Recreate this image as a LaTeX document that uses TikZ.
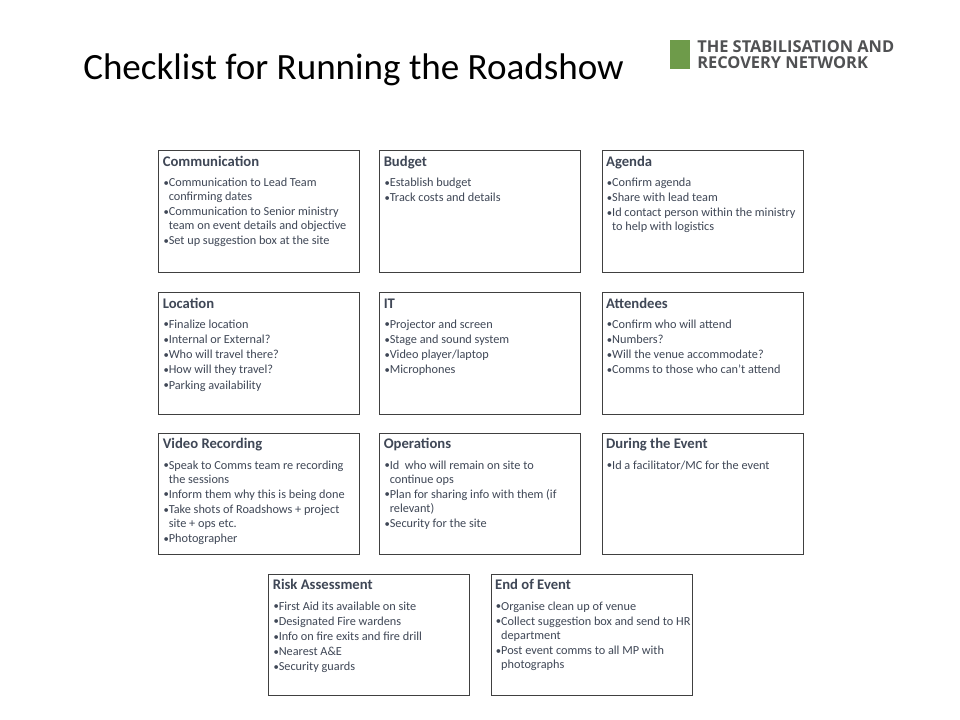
\documentclass[tikz,border=0pt]{standalone}
\usepackage{fontspec}
\setmainfont{Carlito}
\newfontfamily\logofont{Open Sans}
\usetikzlibrary{calc}
\definecolor{txt}{HTML}{3F4756}
\definecolor{boxline}{HTML}{404040}
\definecolor{logogreen}{HTML}{6E9B4A}
\definecolor{logogrey}{HTML}{505153}
\tikzset{
  chkbox/.style={draw=boxline, line width=0.75pt, rectangle, anchor=north west, inner sep=0pt, minimum width=150.75pt, minimum height=91pt},
  head/.style={anchor=base west, inner sep=0pt, text=txt, font=\fontsize{11}{13}\selectfont\bfseries},
  items/.style={anchor=base west, inner sep=0pt, text=txt, font=\fontsize{9.2}{10.5}\selectfont},
  logotext/.style={anchor=base west, inner sep=0pt, text=logogrey, font=\logofont\bfseries\fontsize{12.3}{14}\selectfont},
}
\newcommand\bul{\par\hangindent=3pt\hangafter=1\noindent\makebox[3pt][l]{\kern-0.9pt\raisebox{0.3pt}{\fontsize{8}{8}\selectfont •}}}
\newcommand\mkbox[5]{%
  \node[chkbox] (#1) at (#2,#3) {};
  \node[head] (#1-h) at ($(#1.north west)+(4.2,15.8)$) {#4};
  \node[items] (#1-i) at ($(#1.north west)+(6.2,36)$) {\vtop{\hsize=185pt\parindent=0pt\parskip=0.9pt\raggedright #5}};
}
\begin{document}
\begin{tikzpicture}[x=0.75pt,y=-0.75pt]
\useasboundingbox (0,0) rectangle (960,720);
\fill[white] (0,0) rectangle (960,720);
% title
\node[anchor=base west, inner sep=0pt, font=\fontsize{27.8}{32}\selectfont] (title) at (83,80) {Checklist for Running the Roadshow};
% logo
\fill[logogreen] (670,40) rectangle (689.5,69.5);
\node[logotext] (logo1) at (697,52.5) {THE STABILISATION AND};
\node[logotext] (logo2) at (697,69) {RECOVERY NETWORK};
% boxes
\mkbox{comm}{158.3}{150.5}{Communication}{\bul Communication to Lead Team\newline confirming dates\bul Communication to Senior ministry\newline team on event details and objective\bul Set up suggestion box at the site}
\mkbox{budget}{379.3}{150.5}{Budget}{\bul Establish budget\bul Track costs and details}
\mkbox{agenda}{601.7}{150.5}{Agenda}{\bul Confirm agenda\bul Share with lead team\bul Id contact person within the ministry\newline to help with logistics}
\mkbox{loc}{158.3}{292.3}{Location}{\bul Finalize location\bul Internal or External?\bul Who will travel there?\bul How will they travel?\bul Parking availability}
\mkbox{it}{379.3}{292.3}{IT}{\bul Projector and screen\bul Stage and sound system\bul Video player/laptop\bul Microphones}
\mkbox{att}{601.7}{292.3}{Attendees}{\bul Confirm who will attend\bul Numbers?\bul Will the venue accommodate?\bul Comms to those who can't attend}
\mkbox{video}{158.3}{433}{Video Recording}{\bul Speak to Comms team re recording\newline the sessions\bul Inform them why this is being done\bul Take shots of Roadshows + project\newline site + ops etc.\bul Photographer}
\mkbox{ops}{379.3}{433}{Operations}{\bul Id\ \ who will remain on site to\newline continue ops\bul Plan for sharing info with them (if\newline relevant)\bul Security for the site}
\mkbox{during}{601.7}{433}{During the Event}{\bul Id a facilitator/MC for the event}
\mkbox{risk}{268.3}{574}{Risk Assessment}{\bul First Aid its available on site\bul Designated Fire wardens\bul Info on fire exits and fire drill\bul Nearest A\&E\bul Security guards}
\mkbox{endev}{490.7}{574}{End of Event}{\bul Organise clean up of venue\bul Collect suggestion box and send to HR\newline department\bul Post event comms to all MP with\newline photographs}
\end{tikzpicture}
\end{document}
